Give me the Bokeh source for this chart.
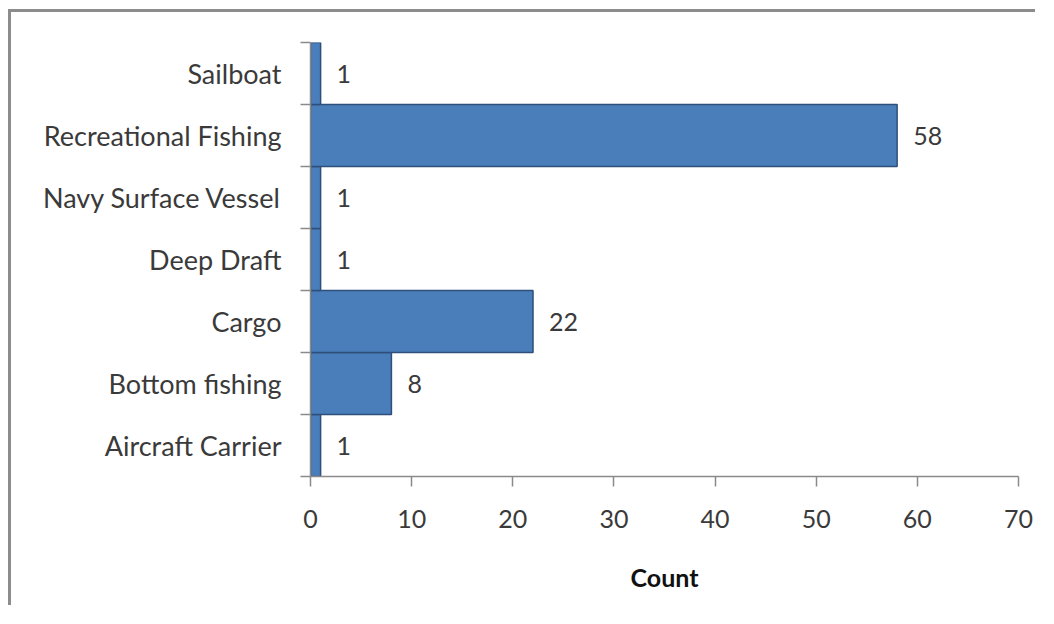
from bokeh.plotting import figure
from bokeh.models import Range1d, FixedTicker, ColumnDataSource
from bokeh.core.properties import value
from bokeh.embed import file_html
from bokeh.resources import INLINE

categories = ["Aircraft Carrier", "Bottom fishing", "Cargo", "Deep Draft",
              "Navy Surface Vessel", "Recreational Fishing", "Sailboat"]
counts = [1, 8, 22, 1, 1, 58, 1]
x_ticks = [0, 10, 20, 30, 40, 50, 60, 70]
x_label = "Count"

FONT = "Lato"
TXT = "#3a3a3a"

pos = [i + 0.5 for i in range(len(categories))]
src = ColumnDataSource(dict(y=pos, v=counts, lab=[str(c) for c in counts]))

p = figure(width=1027, height=596, output_backend="svg", toolbar_location=None,
           x_range=Range1d(0, 70), y_range=Range1d(0, len(categories)),
           min_border_left=299, min_border_right=20, min_border_top=30,
           min_border_bottom=132)
p.outline_line_color = None
p.xgrid.visible = False
p.ygrid.visible = False
p.background_fill_color = "white"
p.border_fill_color = "white"
p.styles = {"border-left": "3px solid #8c8c8c", "border-top": "3px solid #8c8c8c",
            "margin-left": "8px", "margin-top": "9px"}

p.hbar(y="y", right="v", left=0, height=1.0, source=src,
       fill_color="#4a7ebb", line_color="#2f4f7a", line_width=1.5)
p.text(x="v", y="y", text="lab", source=src, x_offset=16,
       text_baseline="middle", text_align="left",
       text_font=value(FONT), text_font_size="25px", text_color=TXT)

xa = p.xaxis[0]
xa.ticker = FixedTicker(ticks=x_ticks)
xa.axis_line_color = "#8a8a8a"
xa.axis_line_width = 1.5
xa.major_tick_line_color = "#8a8a8a"
xa.major_tick_line_width = 1.5
xa.major_tick_out = 10
xa.major_tick_in = 0
xa.minor_tick_line_color = None
xa.major_label_standoff = 23
xa.major_label_text_font = FONT
xa.major_label_text_font_size = "25px"
xa.major_label_text_color = TXT
xa.axis_label = x_label
xa.axis_label_text_font = FONT
xa.axis_label_text_font_size = "25px"
xa.axis_label_text_font_style = "bold"
xa.axis_label_text_color = "#111111"
xa.axis_label_standoff = 31

ya = p.yaxis[0]
ya.ticker = FixedTicker(ticks=pos, minor_ticks=list(range(len(categories) + 1)))
ya.major_label_overrides = {pp: c for pp, c in zip(pos, categories)}
ya.axis_line_color = "#8a8a8a"
ya.axis_line_width = 1.5
ya.major_tick_line_color = None
ya.major_tick_out = 10
ya.major_tick_in = 0
ya.minor_tick_line_color = "#8a8a8a"
ya.minor_tick_line_width = 1.5
ya.minor_tick_out = 10
ya.minor_tick_in = 0
ya.major_label_standoff = 19
ya.major_label_text_font = FONT
ya.major_label_text_font_size = "27px"
ya.major_label_text_color = TXT

open("out.html", "w").write(file_html(p, INLINE))
